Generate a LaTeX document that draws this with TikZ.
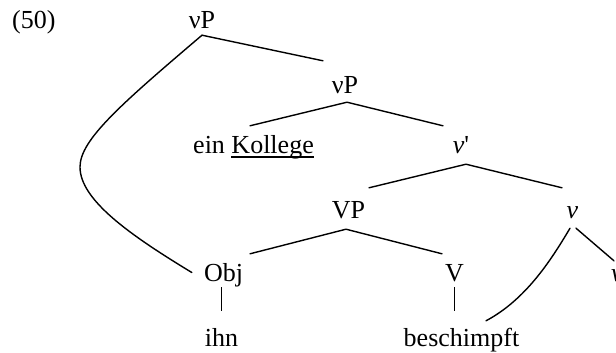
\documentclass[tikz,border=0pt]{standalone}
\usepackage{fontspec}
\setmainfont{Liberation Serif}
\usetikzlibrary{calc}
% word-processor style underline that runs through descenders
\newcommand\wpunderline[1]{\setbox0\hbox{#1}\rlap{\rule[-4.7pt]{\wd0}{1.3pt}}\box0}
\begin{document}
\begin{tikzpicture}[x=1pt,y=-1pt,
  lbl/.style={inner sep=0pt,text height=19pt,text depth=6pt,anchor=base,
              font=\fontsize{26}{30}\selectfont},
  branch/.style={line width=1.4pt,line cap=round,line join=round},
  bar/.style={line width=0.8pt}]
\useasboundingbox (0,0) rectangle (616,353);
\clip (0,0) rectangle (616,353);

% labels
\node[lbl,anchor=base west] (ex) at (12,29) {(50)};
\node[lbl] (top)  at (202,29)    {νP};
\node[lbl] (nuP)  at (345,93)    {νP};
\node[lbl] (spec) at (253.5,153) {ein \wpunderline{Kollege}};
\node[lbl] (nub)  at (461,153)   {\textit{ν}\textquotesingle};
\node[lbl] (VP)   at (348.5,218) {VP};
\node[lbl] (nu)   at (572.5,218) {\textit{ν}};
\node[lbl] (obj)  at (223.5,281) {Obj};
\node[lbl] (V)    at (454.5,281) {V};
\node[lbl,anchor=base west] (nuR) at (611,281) {\textit{ν}};
\node[lbl] (ihn)  at (221.5,346) {ihn};
\node[lbl] (besch) at (461.5,346) {beschimpft};

% bend point of the movement line
\coordinate (bend) at (80,167);

% tree branches
\draw[branch] (top.south) -- ($(nuP.north)+(-22,-13)$);
\draw[branch] ($(spec.north)+(-3.5,-8)$) -- ($(nuP.south)+(2,3)$) -- ($(nub.north)+(-18,-8)$);
\draw[branch] ($(VP.north)+(20.5,-11)$) -- ($(nub.south)+(5,5)$) -- ($(nu.north)+(-10.5,-11)$);
\draw[branch] ($(obj.north)+(26.5,-8)$) -- ($(VP.south)+(-2.5,5)$) -- ($(V.north)+(-12.5,-8)$);
\draw[branch] ($(nu.south)+(3.5,4)$) -- ($(nuR.north)+(-3,-1)$);

% unary links to the words
\draw[bar] (obj.south -| ihn) -- ($(ihn.north)+(0,-16)$);
\draw[bar] (V.south) -- ($(V.south |- besch.north)+(0,-16)$);

% movement curves
\draw[branch] (top.south) .. controls (120,105) and (80,140) .. (bend)
  .. controls (80,200) and (130,235) .. ($(obj.west)+(-12,-2)$);
\draw[branch] ($(besch.north)+(24.5,-6)$) .. controls (525,300) and (550,262) .. ($(nu.south)+(-2.5,4)$);
\end{tikzpicture}
\end{document}
